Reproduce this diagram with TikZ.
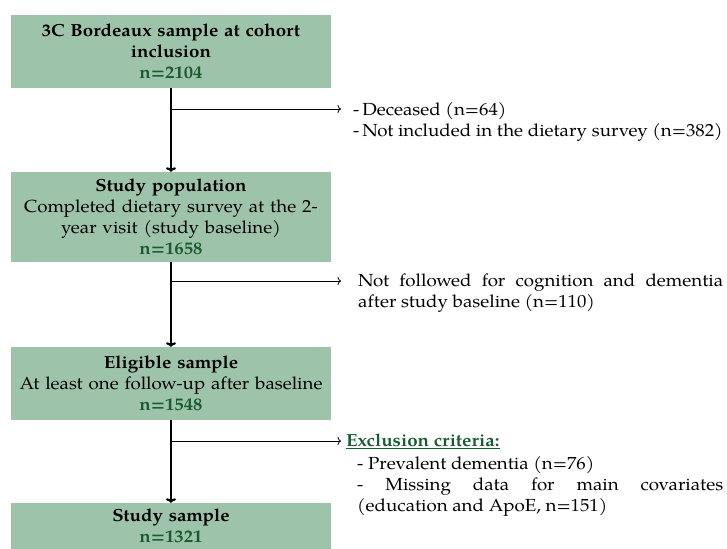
\documentclass[tikz,border=0pt]{standalone}
\usepackage{fontspec}
\setmainfont{TeX Gyre Pagella}[FakeStretch=1.07]
\usetikzlibrary{arrows.meta}
\definecolor{boxfill}{HTML}{9EC3AB}
\definecolor{ngreen}{HTML}{185C2F}
\begin{document}
\begin{tikzpicture}[x=1pt,y=-1pt,
  box/.style={fill=boxfill, minimum width=320pt, text width=316pt, align=center, inner sep=0pt, font=\fontsize{17.5}{21}\selectfont},
  mainarrow/.style={line width=2.2pt, -{To[length=4.5pt,width=10pt]}},
  sidearrow/.style={line width=0.8pt, -{To[length=3.5pt,width=8pt]}},
  side/.style={anchor=base west, inner sep=0pt, font=\fontsize{17.5}{21}\selectfont}
]
\useasboundingbox[fill=white] (0,0) rectangle (727,548);

\node[box, minimum height=73pt] (b1) at (171,51.5)
  {\textbf{3C Bordeaux sample at cohort\\inclusion}\\\textcolor{ngreen}{\textbf{n=2104}}};
\node[box, minimum height=90pt] (b2) at (171,217)
  {\textbf{Study population}\\Completed dietary survey at the 2-\\year visit (study baseline)\\\textcolor{ngreen}{\textbf{n=1658}}};
\node[box, minimum height=73pt] (b3) at (171,383.5)
  {\textbf{Eligible sample}\\At least one follow-up after baseline\\\textcolor{ngreen}{\textbf{n=1548}}};
\node[box, minimum height=46pt] (b4) at (171,526)
  {\textbf{Study sample}\\\textcolor{ngreen}{\textbf{n=1321}}};

\draw[mainarrow] (b1.south) -- (b2.north);
\draw[mainarrow] (b2.south) -- (b3.north);
\draw[mainarrow] (b3.south) -- (b4.north);

\coordinate (e1) at (341,109);
\coordinate (e2) at (341,281);
\coordinate (e3) at (341,441);
\draw[sidearrow] (b1.south |- e1) -- (e1);
\draw[sidearrow] (b2.south |- e2) -- (e2);
\draw[sidearrow] (b3.south |- e3) -- (e3);

\node[side, align=left] (t1) at (353,136.5)
  {-\,Deceased (n=64)\\-\,Not included in the dietary survey (n=382)};
\node[side, text width=365pt, align=justify] (t2) at (358,286)
  {Not followed for cognition and dementia\linebreak after study baseline (n=110)};
\node[side, text=ngreen] (t3h) at (346,446)
  {\underline{\textbf{Exclusion criteria:}}};
\node[side, text width=366pt, align=justify] (t3) at (357,469)
  {- Prevalent dementia (n=76)\\- Missing data for main covariates\linebreak (education and ApoE, n=151)};
\end{tikzpicture}
\end{document}
